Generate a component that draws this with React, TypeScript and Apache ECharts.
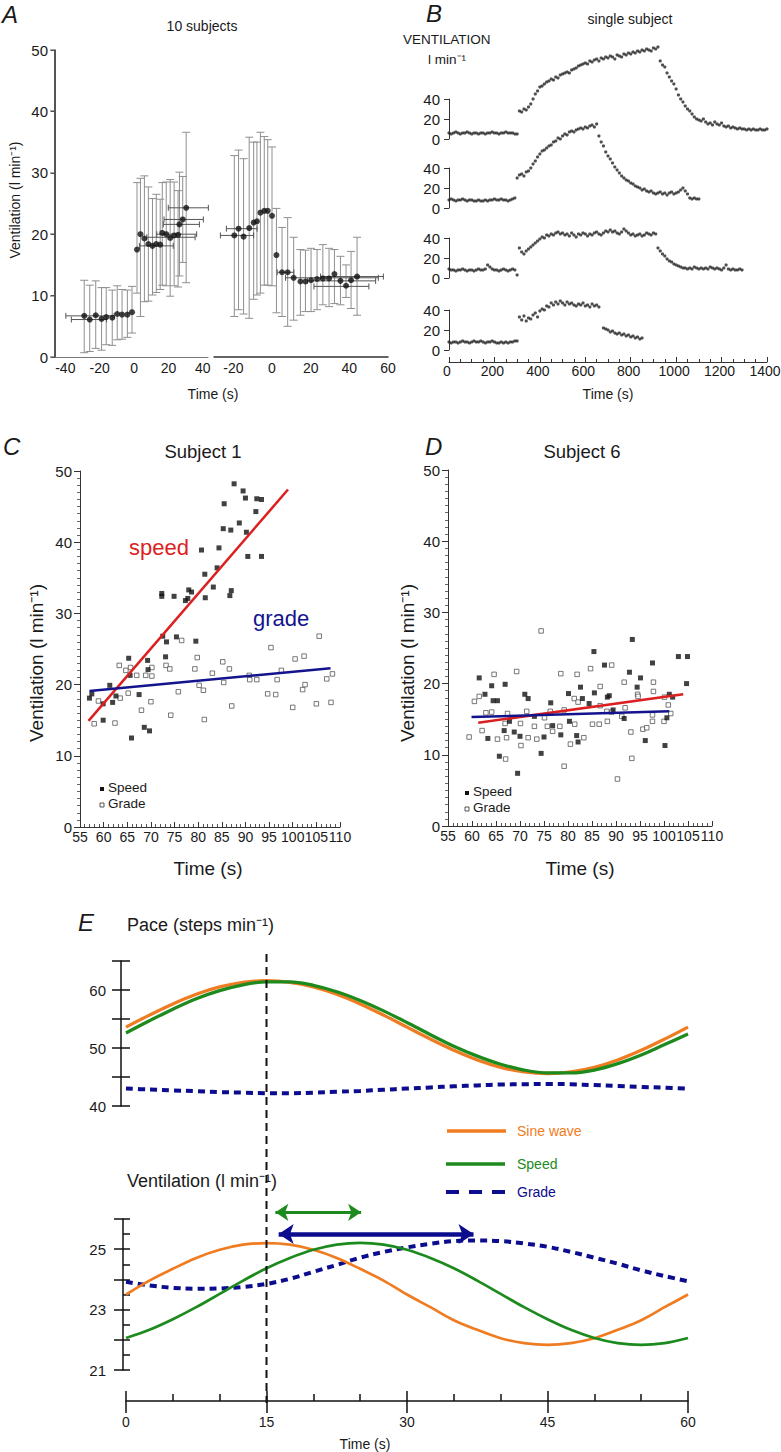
import React, { useEffect, useRef } from 'react';
import * as echarts from 'echarts';

const FONT = '"Liberation Sans", Arial, Helvetica, sans-serif';
const ORANGE = '#f07c22';
const GREEN = '#1d8a1d';
const NAVY = '#0c0c8e';
const RED = '#dc1f1f';
const BLUE = '#13138e';
const INK = '#1a1a1a';

// ---------------- Panel A: 10 subjects (x, mean, lower, upper) ----------------
const aLeftPoints: number[][] = [
  [-29.0, 6.7, 0.7, 12.5], [-25.8, 6.1, 0.9, 11.7], [-22.3, 6.8, 1.4, 12.4], [-18.9, 6.2, 1.1, 11.3],
  [-16.2, 6.5, 2.0, 11.3], [-12.7, 6.4, 1.9, 10.9], [-9.8, 7.0, 2.8, 11.6], [-7.0, 6.9, 2.9, 11.0],
  [-3.9, 6.9, 3.2, 10.9], [-1.2, 7.3, 3.9, 11.5], [1.7, 17.5, 10.4, 28.4], [3.7, 20.0, 6.6, 29.1],
  [6.0, 19.3, 9.0, 29.5], [8.3, 18.4, 9.1, 27.7], [10.7, 18.1, 10.1, 25.8], [12.9, 18.4, 10.5, 26.5],
  [15.2, 18.3, 11.0, 25.7], [16.4, 20.2, 11.7, 28.4], [18.7, 20.0, 11.6, 28.5], [21.0, 19.4, 9.9, 28.9],
  [23.3, 19.8, 11.6, 28.5], [25.6, 19.9, 11.4, 27.1], [26.4, 21.6, 13.2, 30.1], [28.3, 22.4, 15.4, 29.4],
  [30.3, 24.3, 12.1, 36.6],
];
const aRightPoints: number[][] = [
  [-19.5, 19.8, 6.6, 32.8], [-17.3, 20.9, 7.7, 33.7], [-14.7, 19.6, 7.0, 32.3], [-11.8, 21.0, 6.3, 35.8],
  [-9.5, 21.9, 9.4, 35.0], [-7.8, 22.1, 10.1, 35.0], [-6.0, 23.5, 10.4, 36.6], [-4.0, 23.8, 11.7, 35.9],
  [-2.2, 23.8, 11.7, 35.4], [0.0, 23.0, 11.6, 34.2], [2.3, 16.6, 7.2, 24.2], [5.2, 13.8, 6.6, 21.1],
  [8.1, 13.8, 5.0, 22.7], [11.2, 12.9, 6.0, 19.5], [14.7, 12.3, 6.8, 17.5], [17.3, 12.3, 7.4, 17.4],
  [20.2, 12.5, 7.4, 17.7], [23.3, 12.7, 7.7, 17.5], [26.3, 12.8, 8.5, 18.3], [29.5, 12.8, 8.2, 17.7],
  [32.3, 13.5, 8.7, 17.5], [35.4, 12.4, 8.5, 16.4], [38.3, 11.6, 9.7, 15.0], [40.9, 12.5, 7.9, 17.2],
  [44.0, 13.1, 6.8, 19.5],
];
// horizontal error bars: (y, xLow, xHigh)
const aLeftHBars: number[][] = [
  [6.7, -39.7, -11.6], [6.1, -36.5, -16.0], [18.1, 3.1, 22.8], [19.5, 7.4, 35.5],
  [20.0, 13.2, 36.4], [21.6, 17.0, 38.0], [22.4, 17.4, 40.3], [24.3, 19.9, 43.2],
];
const aRightHBars: number[][] = [
  [19.8, -26.7, -9.5], [20.9, -23.6, -7.7], [13.8, 2.7, 11.3], [12.9, 7.0, 55.0],
  [12.4, 18.3, 53.6], [11.5, 21.7, 50.1], [13.1, 25.1, 57.6],
];
const aYTicks = [0, 10, 20, 30, 40, 50];

// ---------------- Panel B: single subject, 10 s samples ----------------
const b1Baseline = [6, 5, 6, 7, 6, 5, 6, 6, 7, 6, 5, 6, 6, 5, 6, 6, 5, 6, 6, 7, 6, 6, 5, 6, 6, 7, 6, 6, 6, 5, 5]; // 0..300
const b1Exercise = [ // 310..1400
  28, 27, 30, 29, 32, 35, 40, 45, 48, 52, 53, 55, 57, 58, 60, 59, 62, 61, 64, 65,
  66, 67, 66, 69, 70, 71, 73, 74, 75, 76, 75, 78, 77, 79, 80, 78, 81, 80, 82, 81,
  83, 82, 80, 84, 83, 82, 85, 84, 86, 85, 87, 86, 88, 87, 89, 88, 90, 89, 88, 91,
  90, 92, 78, 74, 72, 66, 62, 58, 55, 50, 44, 40, 37, 33, 30, 28, 25, 22, 20, 19,
  18, 20, 17, 15, 16, 14, 17, 15, 14, 16, 13, 12, 13, 11, 12, 11, 10, 11, 10, 10,
  9, 10, 9, 10, 9, 9, 10, 9, 9, 10,
];
const b2Baseline = [8, 9, 8, 7, 8, 8, 9, 8, 7, 8, 8, 7, 7, 8, 7, 7, 8, 7, 8, 8, 9, 8, 8, 9, 8, 8, 7, 8, 9, 10]; // 0..290
const b2Exercise = [ // 300..1100
  30, 33, 34, 32, 36, 37, 40, 44, 47, 51, 54, 57, 58, 60, 62, 63, 66, 67, 70, 69,
  72, 74, 73, 76, 77, 76, 78, 79, 80, 79, 81, 80, 82, 83, 81, 84, 72, 66, 62, 56,
  52, 49, 45, 41, 38, 35, 32, 30, 28, 27, 25, 24, 22, 21, 20, 18, 19, 17, 16, 17,
  15, 14, 15, 16, 14, 15, 13, 15, 16, 14, 15, 16, 18, 20, 17, 14, 10, 9, 10, 9, 9,
];
const b3Baseline = [9, 8, 8, 7, 8, 8, 9, 8, 7, 8, 8, 7, 8, 9, 8, 8, 9, 13, 11, 9, 8, 8, 7, 8, 9, 8, 7, 8, 9, 8, 3]; // 0..300
const b3Exercise = [ // 310..1290
  30, 26, 24, 27, 29, 31, 33, 35, 37, 39, 41, 40, 43, 42, 44, 43, 45, 46, 44, 45,
  43, 44, 42, 45, 43, 41, 44, 43, 45, 44, 42, 44, 43, 45, 46, 44, 43, 45, 47, 46,
  48, 46, 47, 45, 44, 46, 49, 47, 45, 43, 44, 42, 43, 44, 42, 43, 45, 44, 43, 45,
  44, 30, 27, 24, 22, 19, 17, 16, 14, 13, 12, 11, 10, 10, 9, 10, 9, 11, 10, 9,
  10, 9, 10, 9, 11, 10, 9, 10, 9, 8, 10, 13, 9, 8, 9, 8, 8, 9, 8,
];
const b4Baseline = [8, 7, 8, 8, 7, 8, 9, 8, 8, 7, 8, 9, 8, 8, 9, 8, 7, 8, 8, 9, 8, 7, 7, 8, 7, 8, 7, 8, 8, 9, 9]; // 0..300
const b4Exercise = [ // 310..660
  33, 30, 34, 29, 32, 31, 35, 37, 33, 39, 41, 40, 44, 43, 47, 45, 48, 46, 49, 47,
  45, 48, 46, 47, 45, 44, 46, 45, 47, 44, 45, 43, 46, 44, 45, 43,
];
const b4Recovery = [22, 21, 20, 18, 19, 17, 16, 17, 15, 16, 14, 15, 13, 14, 12, 13, 11, 12]; // 680..850

// ---------------- Panel C: Subject 1 ----------------
const cSpeed: number[][] = [
  [57.0, 18.1], [57.5, 18.7], [59.9, 17.3], [59.9, 15.0], [61.3, 19.9], [61.9, 17.5], [62.6, 18.4],
  [65.3, 23.7], [65.6, 21.3], [65.9, 12.5], [67.5, 18.6], [68.6, 14.0], [69.3, 23.4], [69.4, 22.1],
  [69.7, 13.5], [72.3, 32.8], [72.3, 32.4], [72.5, 26.8], [73.1, 23.9], [73.3, 26.0], [74.9, 32.4],
  [75.4, 26.7], [77.3, 31.8], [77.8, 32.1], [78.0, 33.3], [78.6, 33.0], [79.5, 26.1], [80.7, 38.9],
  [81.4, 35.5], [81.5, 32.2], [83.2, 33.7], [84.0, 36.4], [84.4, 39.2], [85.3, 41.9], [85.5, 45.4],
  [86.7, 32.5], [86.9, 41.7], [87.0, 33.2], [87.6, 48.2], [88.7, 42.7], [89.5, 47.2], [90.0, 46.2],
  [90.2, 41.4], [90.5, 38.0], [92.2, 44.3], [92.4, 46.1], [93.4, 46.0], [93.4, 38.0],
];
const cGrade: number[][] = [
  [58.9, 17.7], [58.0, 14.5], [62.4, 14.6], [63.5, 18.1], [63.3, 22.7], [64.7, 22.0], [65.2, 18.8],
  [65.7, 22.4], [67.0, 21.3], [68.0, 16.4], [68.9, 21.3], [70.0, 17.6], [70.2, 21.2], [70.2, 22.4],
  [73.2, 22.7], [74.0, 22.2], [74.2, 15.7], [75.8, 19.0], [76.5, 26.2], [79.3, 22.2], [79.8, 23.8],
  [80.2, 19.9], [81.1, 19.2], [81.3, 15.1], [83.0, 21.6], [85.2, 23.2], [85.4, 20.3], [86.6, 22.2],
  [87.1, 17.0], [90.8, 21.3], [90.9, 20.7], [92.4, 20.7], [94.7, 18.7], [95.4, 25.2], [96.4, 18.6],
  [96.7, 20.7], [97.6, 22.0], [100.0, 16.8], [100.5, 23.6], [102.4, 24.0], [102.1, 19.3], [102.6, 20.0],
  [105.0, 17.3], [105.6, 26.8], [107.2, 20.8], [108.1, 17.5], [108.4, 21.5],
];
const cSpeedFit: number[][] = [[56.8, 14.9], [99.0, 47.4]];
const cGradeFit: number[][] = [[57.0, 19.1], [108.0, 22.3]];

// ---------------- Panel D: Subject 6 ----------------
const dSpeed: number[][] = [
  [61.5, 20.8], [62.7, 18.5], [63.3, 12.3], [64.1, 19.7], [64.4, 17.6], [65.3, 17.6], [65.7, 9.8],
  [66.7, 13.4], [66.9, 19.9], [67.8, 14.7], [68.8, 13.2], [69.5, 7.4], [70.0, 12.6], [71.0, 18.5],
  [71.7, 17.9], [73.0, 15.4], [74.4, 10.2], [75.0, 12.5], [76.4, 17.3], [76.8, 14.1], [78.5, 12.8],
  [80.1, 18.6], [80.3, 14.7], [81.8, 12.7], [82.1, 11.8], [82.6, 19.5], [83.0, 17.9], [84.4, 17.2],
  [85.4, 24.5], [85.5, 18.7], [87.6, 22.6], [88.2, 18.1], [88.6, 18.3], [89.4, 16.3], [91.7, 15.1],
  [92.8, 21.6], [93.4, 26.2], [94.4, 19.5], [95.1, 20.8], [96.1, 12.0], [97.6, 22.9], [100.2, 11.3],
  [100.6, 15.2], [101.1, 18.5], [101.8, 18.1], [103.0, 23.8], [104.9, 23.8], [104.7, 20.0],
];
const dGrade: number[][] = [
  [59.4, 12.5], [60.5, 17.5], [61.5, 18.2], [62.1, 13.4], [62.9, 15.9], [64.1, 16.0], [64.6, 21.3],
  [65.3, 12.2], [66.9, 14.4], [67.0, 9.4], [67.2, 12.4], [67.4, 15.8], [69.3, 21.7], [70.1, 14.4],
  [70.2, 11.3], [71.4, 16.1], [71.7, 12.4], [73.0, 14.0], [73.5, 12.2], [74.4, 27.4], [75.1, 15.2],
  [75.7, 14.0], [76.8, 13.3], [76.3, 16.1], [78.3, 14.0], [78.5, 21.4], [79.2, 8.4], [79.2, 16.3],
  [80.5, 11.5], [81.3, 17.9], [81.4, 14.3], [81.9, 21.3], [82.1, 17.4], [83.3, 12.4], [84.7, 22.1],
  [85.1, 14.3], [86.5, 14.3], [86.7, 19.6], [86.7, 16.9], [88.2, 14.7], [88.1, 16.1], [89.1, 22.6],
  [89.1, 16.0], [90.3, 6.6], [91.2, 15.4], [91.7, 20.2], [91.9, 16.6], [93.1, 13.2], [93.3, 9.5],
  [94.5, 18.5], [94.6, 18.2], [95.6, 13.6], [96.4, 13.8], [97.6, 15.6], [97.6, 14.7], [97.8, 20.2],
  [97.8, 18.9], [100.0, 14.7], [100.1, 18.1], [100.9, 17.0], [101.4, 15.8],
];
const dSpeedFit: number[][] = [[61.3, 14.5], [104.0, 18.5]];
const dGradeFit: number[][] = [[59.9, 15.3], [101.1, 16.1]];

// ---------------- Panel E: model responses (every 2.5 s) ----------------
const eTime = [0, 2.5, 5, 7.5, 10, 12.5, 15, 17.5, 20, 22.5, 25, 27.5, 30, 32.5, 35, 37.5, 40, 42.5, 45, 47.5, 50, 52.5, 55, 57.5, 60];
const paceSine = [53.6, 55.67, 57.6, 59.26, 60.53, 61.33, 61.6, 61.33, 60.53, 59.26, 57.6, 55.67, 53.6, 51.53, 49.6, 47.94, 46.67, 45.87, 45.6, 45.87, 46.67, 47.94, 49.6, 51.53, 53.6];
const paceSpeed = [52.6, 54.7, 56.7, 58.5, 59.9, 60.9, 61.4, 61.4, 60.8, 59.7, 58.2, 56.4, 54.4, 52.3, 50.3, 48.6, 47.2, 46.2, 45.7, 45.7, 46.2, 47.3, 48.8, 50.6, 52.4];
const paceGrade = [43.0, 42.85, 42.7, 42.55, 42.4, 42.3, 42.2, 42.2, 42.3, 42.45, 42.6, 42.8, 43.0, 43.2, 43.4, 43.55, 43.7, 43.75, 43.8, 43.75, 43.6, 43.45, 43.3, 43.15, 43.0];
const ventSine = [23.5, 23.96, 24.35, 24.71, 24.98, 25.15, 25.2, 25.15, 24.98, 24.71, 24.35, 23.96, 23.5, 23.08, 22.65, 22.33, 22.05, 21.89, 21.83, 21.89, 22.05, 22.33, 22.65, 23.08, 23.5];
const ventSpeed = [22.06, 22.33, 22.68, 23.08, 23.52, 23.96, 24.37, 24.71, 24.98, 25.15, 25.21, 25.15, 24.98, 24.71, 24.37, 23.96, 23.52, 23.08, 22.68, 22.33, 22.06, 21.89, 21.83, 21.89, 22.06];
const ventGrade = [23.92, 23.8, 23.72, 23.69, 23.7, 23.75, 23.85, 24.02, 24.25, 24.48, 24.72, 24.91, 25.06, 25.18, 25.27, 25.29, 25.27, 25.19, 25.08, 24.91, 24.72, 24.52, 24.3, 24.11, 23.94];
const speedLagArrow: number[][] = [[15.95, 26.22], [25.1, 26.22]];
const gradeLagArrow: number[][] = [[16.3, 25.5], [37.1, 25.5]];
const cdTickLabels = [55, 60, 65, 70, 75, 80, 85, 90, 95, 100, 105, 110];

const seq = (start: number, step: number, vals: number[]) => vals.map((v, i) => [start + i * step, v]);
const zip = (xs: number[], ys: number[]) => xs.map((x, i) => [x, ys[i]]);

function vErr(color: string) {
  return (params: any, api: any) => {
    const x = api.value(0), lo = api.value(2), hi = api.value(3);
    const a = api.coord([x, lo]);
    const b = api.coord([x, hi]);
    const c = 4;
    const st = { stroke: color, lineWidth: 1 };
    return {
      type: 'group',
      children: [
        { type: 'line', shape: { x1: a[0], y1: a[1], x2: b[0], y2: b[1] }, style: st },
        { type: 'line', shape: { x1: a[0] - c, y1: a[1], x2: a[0] + c, y2: a[1] }, style: st },
        { type: 'line', shape: { x1: b[0] - c, y1: b[1], x2: b[0] + c, y2: b[1] }, style: st },
      ],
    };
  };
}
function hErr(color: string) {
  return (params: any, api: any) => {
    const y = api.value(0), lo = api.value(1), hi = api.value(2);
    const a = api.coord([lo, y]);
    const b = api.coord([hi, y]);
    const c = 3;
    const st = { stroke: color, lineWidth: 1 };
    return {
      type: 'group',
      children: [
        { type: 'line', shape: { x1: a[0], y1: a[1], x2: b[0], y2: b[1] }, style: st },
        { type: 'line', shape: { x1: a[0], y1: a[1] - c, x2: a[0], y2: a[1] + c }, style: st },
        { type: 'line', shape: { x1: b[0], y1: b[1] - c, x2: b[0], y2: b[1] + c }, style: st },
      ],
    };
  };
}

const lbl = (size: number, margin: number, extra: any = {}) => ({
  fontSize: size, margin, color: INK, fontFamily: FONT, hideOverlap: false, ...extra,
});
const plain = (v: number) => String(v);

function buildOption(): any {
  const g = (left: number, top: number, width: number, height: number) => ({
    left, top, width, height, containLabel: false, outerBoundsMode: 'none',
  });
  const hiddenX = (gi: number, min: number, max: number) => ({
    type: 'value', gridIndex: gi, min, max, show: false, splitLine: { show: false },
  });
  const bY = (gi: number) => ({
    type: 'value', gridIndex: gi, min: 0, max: 40, interval: 20,
    axisLine: { show: true, onZero: false, lineStyle: { color: '#333' } },
    axisTick: { show: true, length: 5, lineStyle: { color: '#333' } },
    axisLabel: lbl(15, 9),
    splitLine: { show: false },
  });
  const cdX = (gi: number) => ({
    type: 'value', gridIndex: gi, min: 55, max: 110, interval: 5,
    axisLine: { show: true, onZero: false, lineStyle: { color: '#333' } },
    axisTick: { show: true, inside: true, length: 5, lineStyle: { color: '#333' } },
    minorTick: { show: true, splitNumber: 5, length: 3, lineStyle: { color: '#555' } },
    axisLabel: lbl(14, 3, { customValues: cdTickLabels, showMaxLabel: true, showMinLabel: true, formatter: plain }),
    splitLine: { show: false },
  });
  const cdY = (gi: number, margin: number) => ({
    type: 'value', gridIndex: gi, min: 0, max: 50, interval: 10,
    axisLine: { show: true, onZero: false, lineStyle: { color: '#333' } },
    axisTick: { show: true, length: 6, lineStyle: { color: '#333' } },
    minorTick: { show: true, splitNumber: 10, length: 3, lineStyle: { color: '#666' } },
    axisLabel: lbl(15, margin),
    splitLine: { show: false },
  });
  const bScatter = (idx: number, data: number[][]) => ({
    type: 'scatter', xAxisIndex: idx, yAxisIndex: idx, data, symbolSize: 3.2,
    itemStyle: { color: '#222' }, clip: false,
  });
  const eLine = (xi: number, yi: number, data: number[][], color: string, width: number, dash?: number[]) => ({
    type: 'line', xAxisIndex: xi, yAxisIndex: yi, data, smooth: 0.35, symbol: 'none', showSymbol: false,
    lineStyle: { color, width, type: dash ? dash : 'solid', cap: 'butt' },
    clip: false,
  });

  return {
    animation: false,
    backgroundColor: '#ffffff',
    textStyle: { fontFamily: FONT, color: INK },
    grid: [
      g(55, 50, 153, 307),    // 0 A left
      g(214, 50, 174, 307),   // 1 A right
      g(449, 99, 318, 40),    // 2 B1
      g(449, 168, 318, 40),   // 3 B2
      g(449, 238, 318, 40),   // 4 B3
      g(449, 310, 318, 40),   // 5 B4
      g(449, 300, 318, 62),   // 6 B time axis
      g(80, 471, 260, 356),   // 7 C
      g(448, 470, 264, 356),  // 8 D
      g(126, 961, 562, 145),  // 9 E pace
      g(126, 1219, 562, 151), // 10 E ventilation
    ],
    xAxis: [
      { type: 'value', gridIndex: 0, min: -46, max: 43, position: 'bottom',
        axisLine: { show: true, onZero: false, lineStyle: { color: '#777' } }, axisTick: { show: false },
        axisLabel: lbl(14, 4, { customValues: [-40, -20, 0, 20, 40], formatter: plain }), splitLine: { show: false } },
      { type: 'value', gridIndex: 1, min: -30, max: 60, position: 'bottom',
        axisLine: { show: true, onZero: false, lineStyle: { color: '#333', width: 1.5 } }, axisTick: { show: false },
        axisLabel: lbl(14, 4, { customValues: [-20, 0, 20, 40, 60], formatter: plain }), splitLine: { show: false } },
      hiddenX(2, 0, 1400), hiddenX(3, 0, 1400), hiddenX(4, 0, 1400), hiddenX(5, 0, 1400),
      { type: 'value', gridIndex: 6, min: 0, max: 1400, interval: 200,
        axisLine: { show: true, onZero: false, lineStyle: { color: '#333' } },
        axisTick: { show: true, inside: true, length: 5, lineStyle: { color: '#333' } },
        minorTick: { show: true, splitNumber: 4, length: 3, lineStyle: { color: '#333' } },
        axisLabel: lbl(14, 2, { formatter: plain, showMaxLabel: true, padding: [0, 4, 0, 0] }), splitLine: { show: false } },
      cdX(7), cdX(8),
      hiddenX(9, 0, 60),
      { type: 'value', gridIndex: 10, min: 0, max: 60, interval: 15, offset: 31, position: 'bottom',
        axisLine: { show: true, onZero: false, lineStyle: { color: '#111', width: 1.5 } },
        axisTick: { show: true, inside: true, length: 10, lineStyle: { color: '#111', width: 1.5 } },
        minorTick: { show: true, splitNumber: 3, length: 7, lineStyle: { color: '#111', width: 1.5 } },
        axisLabel: lbl(14, 14, { formatter: plain }), splitLine: { show: false } },
      { type: 'value', gridIndex: 10, min: 0, max: 60, interval: 15, offset: 31, position: 'bottom',
        axisLine: { show: false, onZero: false },
        axisTick: { show: true, inside: false, length: 12, lineStyle: { color: '#111', width: 1.5 } },
        axisLabel: { show: false }, splitLine: { show: false } },
    ],
    yAxis: [
      { type: 'value', gridIndex: 0, min: 0, max: 50, interval: 10, position: 'left',
        axisLine: { show: true, onZero: false, lineStyle: { color: '#444', width: 1.5 } },
        axisTick: { show: true, length: 4, lineStyle: { color: '#444' } },
        axisLabel: lbl(15, 7), splitLine: { show: false } },
      { type: 'value', gridIndex: 1, min: 0, max: 50, show: false, splitLine: { show: false } },
      bY(2), bY(3), bY(4), bY(5),
      { type: 'value', gridIndex: 6, min: 0, max: 1, show: false, splitLine: { show: false } },
      cdY(7, 8), cdY(8, 8),
      { type: 'value', gridIndex: 9, min: 40, max: 65, interval: 5, offset: 5, position: 'left',
        axisLine: { show: true, onZero: false, lineStyle: { color: '#111', width: 1.5 } },
        axisTick: { show: true, length: 9, lineStyle: { color: '#111', width: 1.5 } },
        axisLabel: lbl(15, 15, { formatter: (v: number) => (v % 10 === 0 ? String(v) : '') }),
        splitLine: { show: false } },
      { type: 'value', gridIndex: 9, min: 40, max: 65, interval: 5, offset: 5, position: 'left',
        axisLine: { show: false, onZero: false },
        axisTick: { show: true, inside: true, length: 9, lineStyle: { color: '#111', width: 1.5 } },
        axisLabel: { show: false }, splitLine: { show: false } },
      { type: 'value', gridIndex: 10, min: 21, max: 26, interval: 0.5, offset: 3, position: 'left',
        axisLine: { show: true, onZero: false, lineStyle: { color: '#111', width: 1.5 } },
        axisTick: { show: true, inside: true, length: 7, lineStyle: { color: '#111', width: 1.5 } },
        axisLabel: lbl(15, 17, { formatter: (v: number) => (v === 21 || v === 23 || v === 25 ? String(v) : '') }),
        splitLine: { show: false } },
      { type: 'value', gridIndex: 10, min: 21, max: 26, interval: 1, offset: 3, position: 'left',
        axisLine: { show: false, onZero: false },
        axisTick: { show: true, inside: false, length: 9, lineStyle: { color: '#111', width: 1.5 } },
        axisLabel: { show: false }, splitLine: { show: false } },
    ],
    series: [
      // Panel A
      { type: 'custom', xAxisIndex: 0, yAxisIndex: 0, data: aLeftPoints, renderItem: vErr('#8f8f8f'),
        encode: { x: 0, y: [1, 2, 3] }, clip: false },
      { type: 'custom', xAxisIndex: 0, yAxisIndex: 0, data: aLeftHBars, renderItem: hErr('#555'),
        encode: { x: [1, 2], y: 0 }, clip: false },
      { type: 'scatter', xAxisIndex: 0, yAxisIndex: 0, data: aLeftPoints.map((d) => [d[0], d[1]]),
        symbolSize: 6, itemStyle: { color: '#111' } },
      { type: 'custom', xAxisIndex: 1, yAxisIndex: 1, data: aRightPoints, renderItem: vErr('#8f8f8f'),
        encode: { x: 0, y: [1, 2, 3] }, clip: false },
      { type: 'custom', xAxisIndex: 1, yAxisIndex: 1, data: aRightHBars, renderItem: hErr('#555'),
        encode: { x: [1, 2], y: 0 }, clip: false },
      { type: 'scatter', xAxisIndex: 1, yAxisIndex: 1, data: aRightPoints.map((d) => [d[0], d[1]]),
        symbolSize: 6, itemStyle: { color: '#111' } },
      // Panel B
      bScatter(2, [...seq(0, 10, b1Baseline), ...seq(310, 10, b1Exercise)]),
      bScatter(3, [...seq(0, 10, b2Baseline), ...seq(300, 10, b2Exercise)]),
      bScatter(4, [...seq(0, 10, b3Baseline), ...seq(310, 10, b3Exercise)]),
      bScatter(5, [...seq(0, 10, b4Baseline), ...seq(310, 10, b4Exercise), ...seq(680, 10, b4Recovery)]),
      // Panel C
      { type: 'scatter', xAxisIndex: 7, yAxisIndex: 7, data: cGrade, symbol: 'rect', symbolSize: 4.5,
        itemStyle: { color: '#fff', borderColor: '#444', borderWidth: 0.9 } },
      { type: 'scatter', xAxisIndex: 7, yAxisIndex: 7, data: cSpeed, symbol: 'rect', symbolSize: 5,
        itemStyle: { color: '#111' } },
      { type: 'line', xAxisIndex: 7, yAxisIndex: 7, data: cSpeedFit, symbol: 'none',
        lineStyle: { color: RED, width: 2.5 } },
      { type: 'line', xAxisIndex: 7, yAxisIndex: 7, data: cGradeFit, symbol: 'none',
        lineStyle: { color: BLUE, width: 2.5 } },
      // Panel D
      { type: 'scatter', xAxisIndex: 8, yAxisIndex: 8, data: dGrade, symbol: 'rect', symbolSize: 4.5,
        itemStyle: { color: '#fff', borderColor: '#444', borderWidth: 0.9 } },
      { type: 'scatter', xAxisIndex: 8, yAxisIndex: 8, data: dSpeed, symbol: 'rect', symbolSize: 5,
        itemStyle: { color: '#111' } },
      { type: 'line', xAxisIndex: 8, yAxisIndex: 8, data: dSpeedFit, symbol: 'none',
        lineStyle: { color: RED, width: 2.5 } },
      { type: 'line', xAxisIndex: 8, yAxisIndex: 8, data: dGradeFit, symbol: 'none',
        lineStyle: { color: BLUE, width: 2.5 } },
      // Panel E top (pace)
      eLine(9, 9, zip(eTime, paceGrade), NAVY, 4, [7, 5]),
      eLine(9, 9, zip(eTime, paceSine), ORANGE, 3.3),
      eLine(9, 9, zip(eTime, paceSpeed), GREEN, 3.3),
      // Panel E bottom (ventilation)
      eLine(10, 11, zip(eTime, ventGrade), NAVY, 4, [7, 5]),
      eLine(10, 11, zip(eTime, ventSine), ORANGE, 2.7),
      eLine(10, 11, zip(eTime, ventSpeed), GREEN, 2.7),
      { type: 'lines', coordinateSystem: 'cartesian2d', xAxisIndex: 10, yAxisIndex: 11, clip: false,
        symbol: ['arrow', 'arrow'], symbolSize: 13,
        lineStyle: { color: GREEN, width: 3, opacity: 1 }, data: [{ coords: speedLagArrow }] },
      { type: 'lines', coordinateSystem: 'cartesian2d', xAxisIndex: 10, yAxisIndex: 11, clip: false,
        symbol: ['arrow', 'arrow'], symbolSize: 15,
        lineStyle: { color: NAVY, width: 4.5, opacity: 1 }, data: [{ coords: gradeLagArrow }] },
    ],
  };
}

function txt(text: string, x: number, y: number, size: number, o: any = {}) {
  return {
    type: 'text', x, y, rotation: o.rot || 0, z: 100,
    style: {
      text, fontSize: size, fontFamily: FONT, fontStyle: o.italic ? 'italic' : 'normal',
      fill: o.color || INK, textAlign: o.align || 'center', textVerticalAlign: 'middle',
    },
  };
}
function hline(x1: number, x2: number, y: number, color: string, width: number, dash?: number[]) {
  return {
    type: 'line', z: 100, shape: { x1, y1: y, x2, y2: y },
    style: { stroke: color, lineWidth: width, lineDash: dash || null },
  };
}
function sq(x: number, y: number, filled: boolean) {
  return {
    type: 'rect', z: 100, shape: { x: x - 2, y: y - 2, width: 4, height: 4 },
    style: filled ? { fill: '#111' } : { fill: '#fff', stroke: '#444', lineWidth: 0.9 },
  };
}

export default function App() {
  const ref = useRef<HTMLDivElement>(null);
  useEffect(() => {
    if (!ref.current) return;
    const chart = echarts.init(ref.current, null, { renderer: 'svg' });
    chart.setOption(buildOption());
    const px = (finder: any, v: number) => chart.convertToPixel(finder, v) as unknown as number;
    const x15 = px({ xAxisIndex: 10 }, 15);
    const yTop = px({ yAxisIndex: 9 }, 66.2);
    const yBot = px({ yAxisIndex: 11 }, 21) + 33;
    // Panel A ventilation axis line, placed from the A-left scales
    const aAxisX = Math.round(px({ xAxisIndex: 0 }, -46));
    const aY0 = px({ yAxisIndex: 0 }, 0);
    const aY50 = px({ yAxisIndex: 0 }, 50);
    const aAxisParts: any[] = [
      { type: 'rect', z: 60, shape: { x: aAxisX - 1, y: aY50, width: 2, height: aY0 - aY50 },
        style: { fill: '#555' } },
      ...aYTicks.map((v) => {
        const y = Math.round(px({ yAxisIndex: 0 }, v));
        return { type: 'rect', z: 60, shape: { x: aAxisX - 5, y: y - 0.5, width: 5, height: 1 },
          style: { fill: '#555' } };
      }),
    ];
    const ROT = Math.PI / 2;
    chart.setOption({
      graphic: {
        elements: [
          ...aAxisParts,
          // Panel A
          txt('A', 2, 14, 24, { italic: true, align: 'left' }),
          txt('10 subjects', 202, 26, 14),
          txt('Ventilation (l min⁻¹)', 15, 200, 14, { rot: ROT }),
          txt('Time (s)', 213, 394, 14),
          // Panel B
          txt('B', 426, 13, 24, { italic: true, align: 'left' }),
          txt('single subject', 630, 19, 14),
          txt('VENTILATION', 403, 39, 13.5, { align: 'left' }),
          txt('l min⁻¹', 428, 59, 13.5, { align: 'left' }),
          txt('Time (s)', 608, 394, 14),
          // Panel C
          txt('C', 3, 446, 24, { italic: true, align: 'left' }),
          txt('Subject 1', 203, 451, 18.5),
          txt('Ventilation (l min⁻¹)', 36, 663, 19, { rot: ROT }),
          txt('speed', 129, 547, 22, { color: RED, align: 'left' }),
          txt('grade', 253, 618, 22, { color: BLUE, align: 'left' }),
          sq(102, 789, true), txt('Speed', 108, 787, 13.5, { align: 'left' }),
          sq(102, 805, false), txt('Grade', 108, 803, 13.5, { align: 'left' }),
          txt('Time (s)', 208, 868, 19),
          // Panel D
          txt('D', 425, 446, 24, { italic: true, align: 'left' }),
          txt('Subject 6', 582, 451, 18.5),
          txt('Ventilation (l min⁻¹)', 407, 663, 19, { rot: ROT }),
          sq(467, 793, true), txt('Speed', 473, 791, 13.5, { align: 'left' }),
          sq(467, 809, false), txt('Grade', 473, 807, 13.5, { align: 'left' }),
          txt('Time (s)', 580, 868, 19),
          // Panel E
          txt('E', 78, 922, 24, { italic: true, align: 'left' }),
          txt('Pace (steps min⁻¹)', 127, 925, 18, { align: 'left' }),
          txt('Ventilation (l min⁻¹)', 127, 1181, 18, { align: 'left' }),
          txt('Time (s)', 365, 1444, 14),
          hline(447, 506, 1131, ORANGE, 3.5), txt('Sine wave', 517, 1131, 14, { color: ORANGE, align: 'left' }),
          hline(446, 505, 1164, GREEN, 3.5), txt('Speed', 517, 1164, 14, { color: GREEN, align: 'left' }),
          hline(446, 505, 1192, NAVY, 4, [13, 10]), txt('Grade', 517, 1192, 14, { color: NAVY, align: 'left' }),
          {
            type: 'line', z: 90, shape: { x1: x15, y1: yTop, x2: x15, y2: yBot },
            style: { stroke: '#111', lineWidth: 2, lineDash: [8, 5] },
          },
        ],
      },
    });
    return () => chart.dispose();
  }, []);
  return (
    <div
      ref={ref}
      style={{ position: 'absolute', left: 0, top: 0, width: 781, height: 1452, background: '#fff' }}
    />
  );
}
